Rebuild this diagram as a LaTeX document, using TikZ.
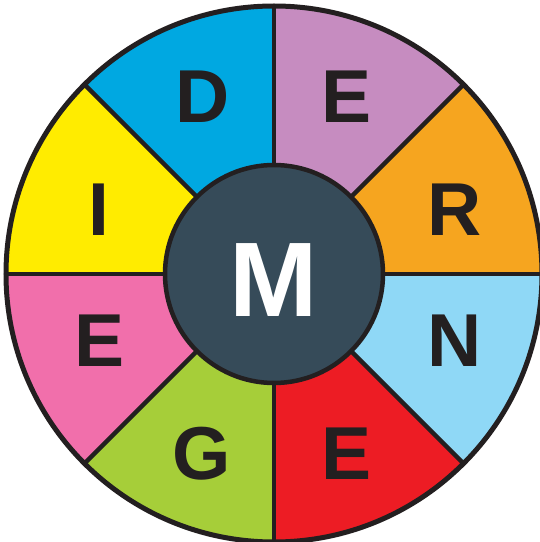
\documentclass[tikz,border=0pt]{standalone}
\usepackage{fontspec}
\setmainfont{Liberation Sans}
\definecolor{ink}{HTML}{231F20}
\definecolor{cR}{HTML}{F6A51F}
\definecolor{cEa}{HTML}{C68CC0}
\definecolor{cD}{HTML}{00A8E1}
\definecolor{cI}{HTML}{FFEC00}
\definecolor{cEc}{HTML}{F16FAB}
\definecolor{cG}{HTML}{A6CE39}
\definecolor{cEb}{HTML}{ED1C24}
\definecolor{cN}{HTML}{8FD8F6}
\definecolor{slate}{HTML}{364B59}
\begin{document}
\begin{tikzpicture}[x=1pt,y=1pt,
  letter/.style={font=\fontsize{75}{75}\selectfont\bfseries, text=ink, inner sep=0pt, anchor=base},
  divider/.style={draw=ink, line width=4.5pt}]
\useasboundingbox (0,0) rectangle (540,542);
\clip (0,0) rectangle (540,542);
\coordinate (O) at (274,268);
\foreach \a/\c in {0/cR,45/cEa,90/cD,135/cI,180/cEc,225/cG,270/cEb,315/cN}
  \fill[\c] (O) -- ++(\a:268) arc[start angle=\a, delta angle=45, radius=268] -- cycle;
\foreach \a in {0,45,...,315}
  \draw[divider] (O) -- ++(\a:268);
\draw[ink, line width=5pt] (O) circle[radius=268];
\filldraw[fill=slate, draw=ink, line width=4.5pt] (O) circle[radius=109];
\node[letter] (lD) at (202.5,419) {D};
\node[letter] (lE1) at (346.5,419) {E};
\node[letter] (lR) at (455,306) {R};
\node[letter] (lN) at (454.5,175) {N};
\node[letter] (lE2) at (346.5,63) {E};
\node[letter] (lG) at (201.5,62) {G};
\node[letter] (lE3) at (99.5,175) {E};
\node[letter] (lI) at (99,306) {I};
\node[letter, font=\fontsize{106}{106}\selectfont\bfseries, text=white] (lM) at (273.5,225.3) {M};
\end{tikzpicture}
\end{document}
